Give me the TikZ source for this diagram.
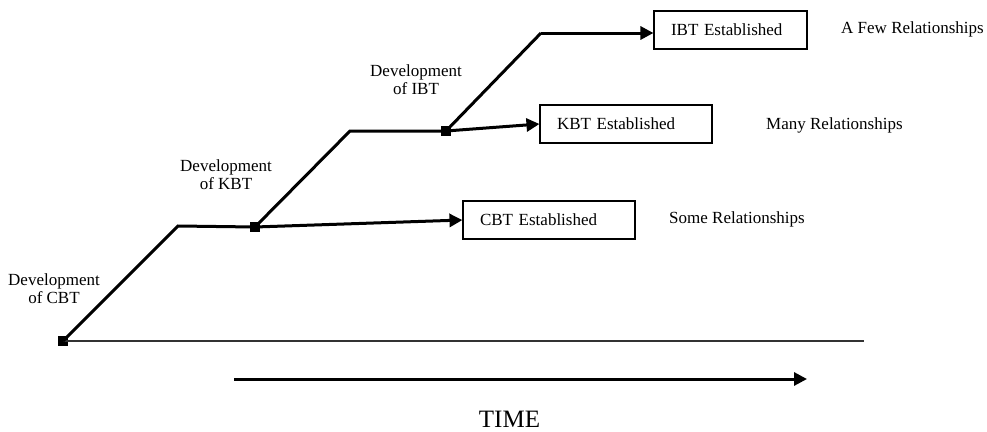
\documentclass[tikz,border=0pt]{standalone}
\usepackage{fontspec}
\setmainfont{Liberation Serif}
\usetikzlibrary{arrows.meta}
\begin{document}
\begin{tikzpicture}[x=1pt,y=-1pt,
  every node/.style={font=\fontsize{17}{18}\selectfont},
  path/.style={line width=3pt,line join=miter},
  flow/.style={path,-{Triangle[length=13pt,width=13pt]}},
  mark box/.style={fill=black,draw=none,minimum size=10pt,inner sep=0pt},
  state/.style={draw,line width=1.1pt,minimum height=38pt,inner ysep=0pt,
    inner xsep=17pt,align=left},
  phase/.style={align=center,inner sep=0pt,anchor=base},
  level/.style={inner sep=0pt,anchor=base west}]
  \useasboundingbox (0,0) rectangle (987,431);

  % milestones and bends of the development paths
  \node[mark box] (o)  at (63,341) {};
  \coordinate (c1) at (178,226);
  \node[mark box] (s2) at (255,227) {};
  \coordinate (c2) at (350,131);
  \node[mark box] (s3) at (446,131) {};
  \coordinate (c3) at (541,33);
  \coordinate (axisend) at (864,341);

  % outcome boxes
  \node[state,text width=138pt] (cbt) at (549,220) {CBT Established};
  \node[state,text width=138pt] (kbt) at (626,124) {KBT Established};
  \node[state,text width=119pt] (ibt) at (730.5,30) {IBT Established};

  % baseline
  \draw[line width=1.4pt,draw=black!80] (o.center) -- (axisend);

  % development paths
  \draw[path] (o.center) -- (c1) -- (s2.center);
  \draw[flow] (s2.center) -- (cbt.west);
  \draw[path] (s2.center) -- (c2) -- (s3.center);
  \draw[flow] (s3.center) -- (kbt.west);
  \draw[path] (s3.center) -- (c3);
  \draw[flow] (c3) -- (c3 -| ibt.west);

  % phase labels (anchored on the baseline of their last line)
  \node[phase] (dcbt) at (54,303) {Development\\of CBT};
  \node[phase] (dkbt) at (226,189) {Development\\of KBT};
  \node[phase] (dibt) at (416,94) {Development\\of IBT};

  % relationship levels
  \node[level] (few)  at (841,33)  {A Few Relationships};
  \node[level] (many) at (766,129) {Many Relationships};
  \node[level] (some) at (669,223) {Some Relationships};

  % time axis
  \coordinate (t0) at (234,379);
  \coordinate (t1) at (807,379);
  \draw[flow] (t0) -- (t1);
  \node[inner sep=0pt,anchor=base,font=\fontsize{25}{26}\selectfont] (time) at (509.5,427) {TIME};
\end{tikzpicture}
\end{document}
